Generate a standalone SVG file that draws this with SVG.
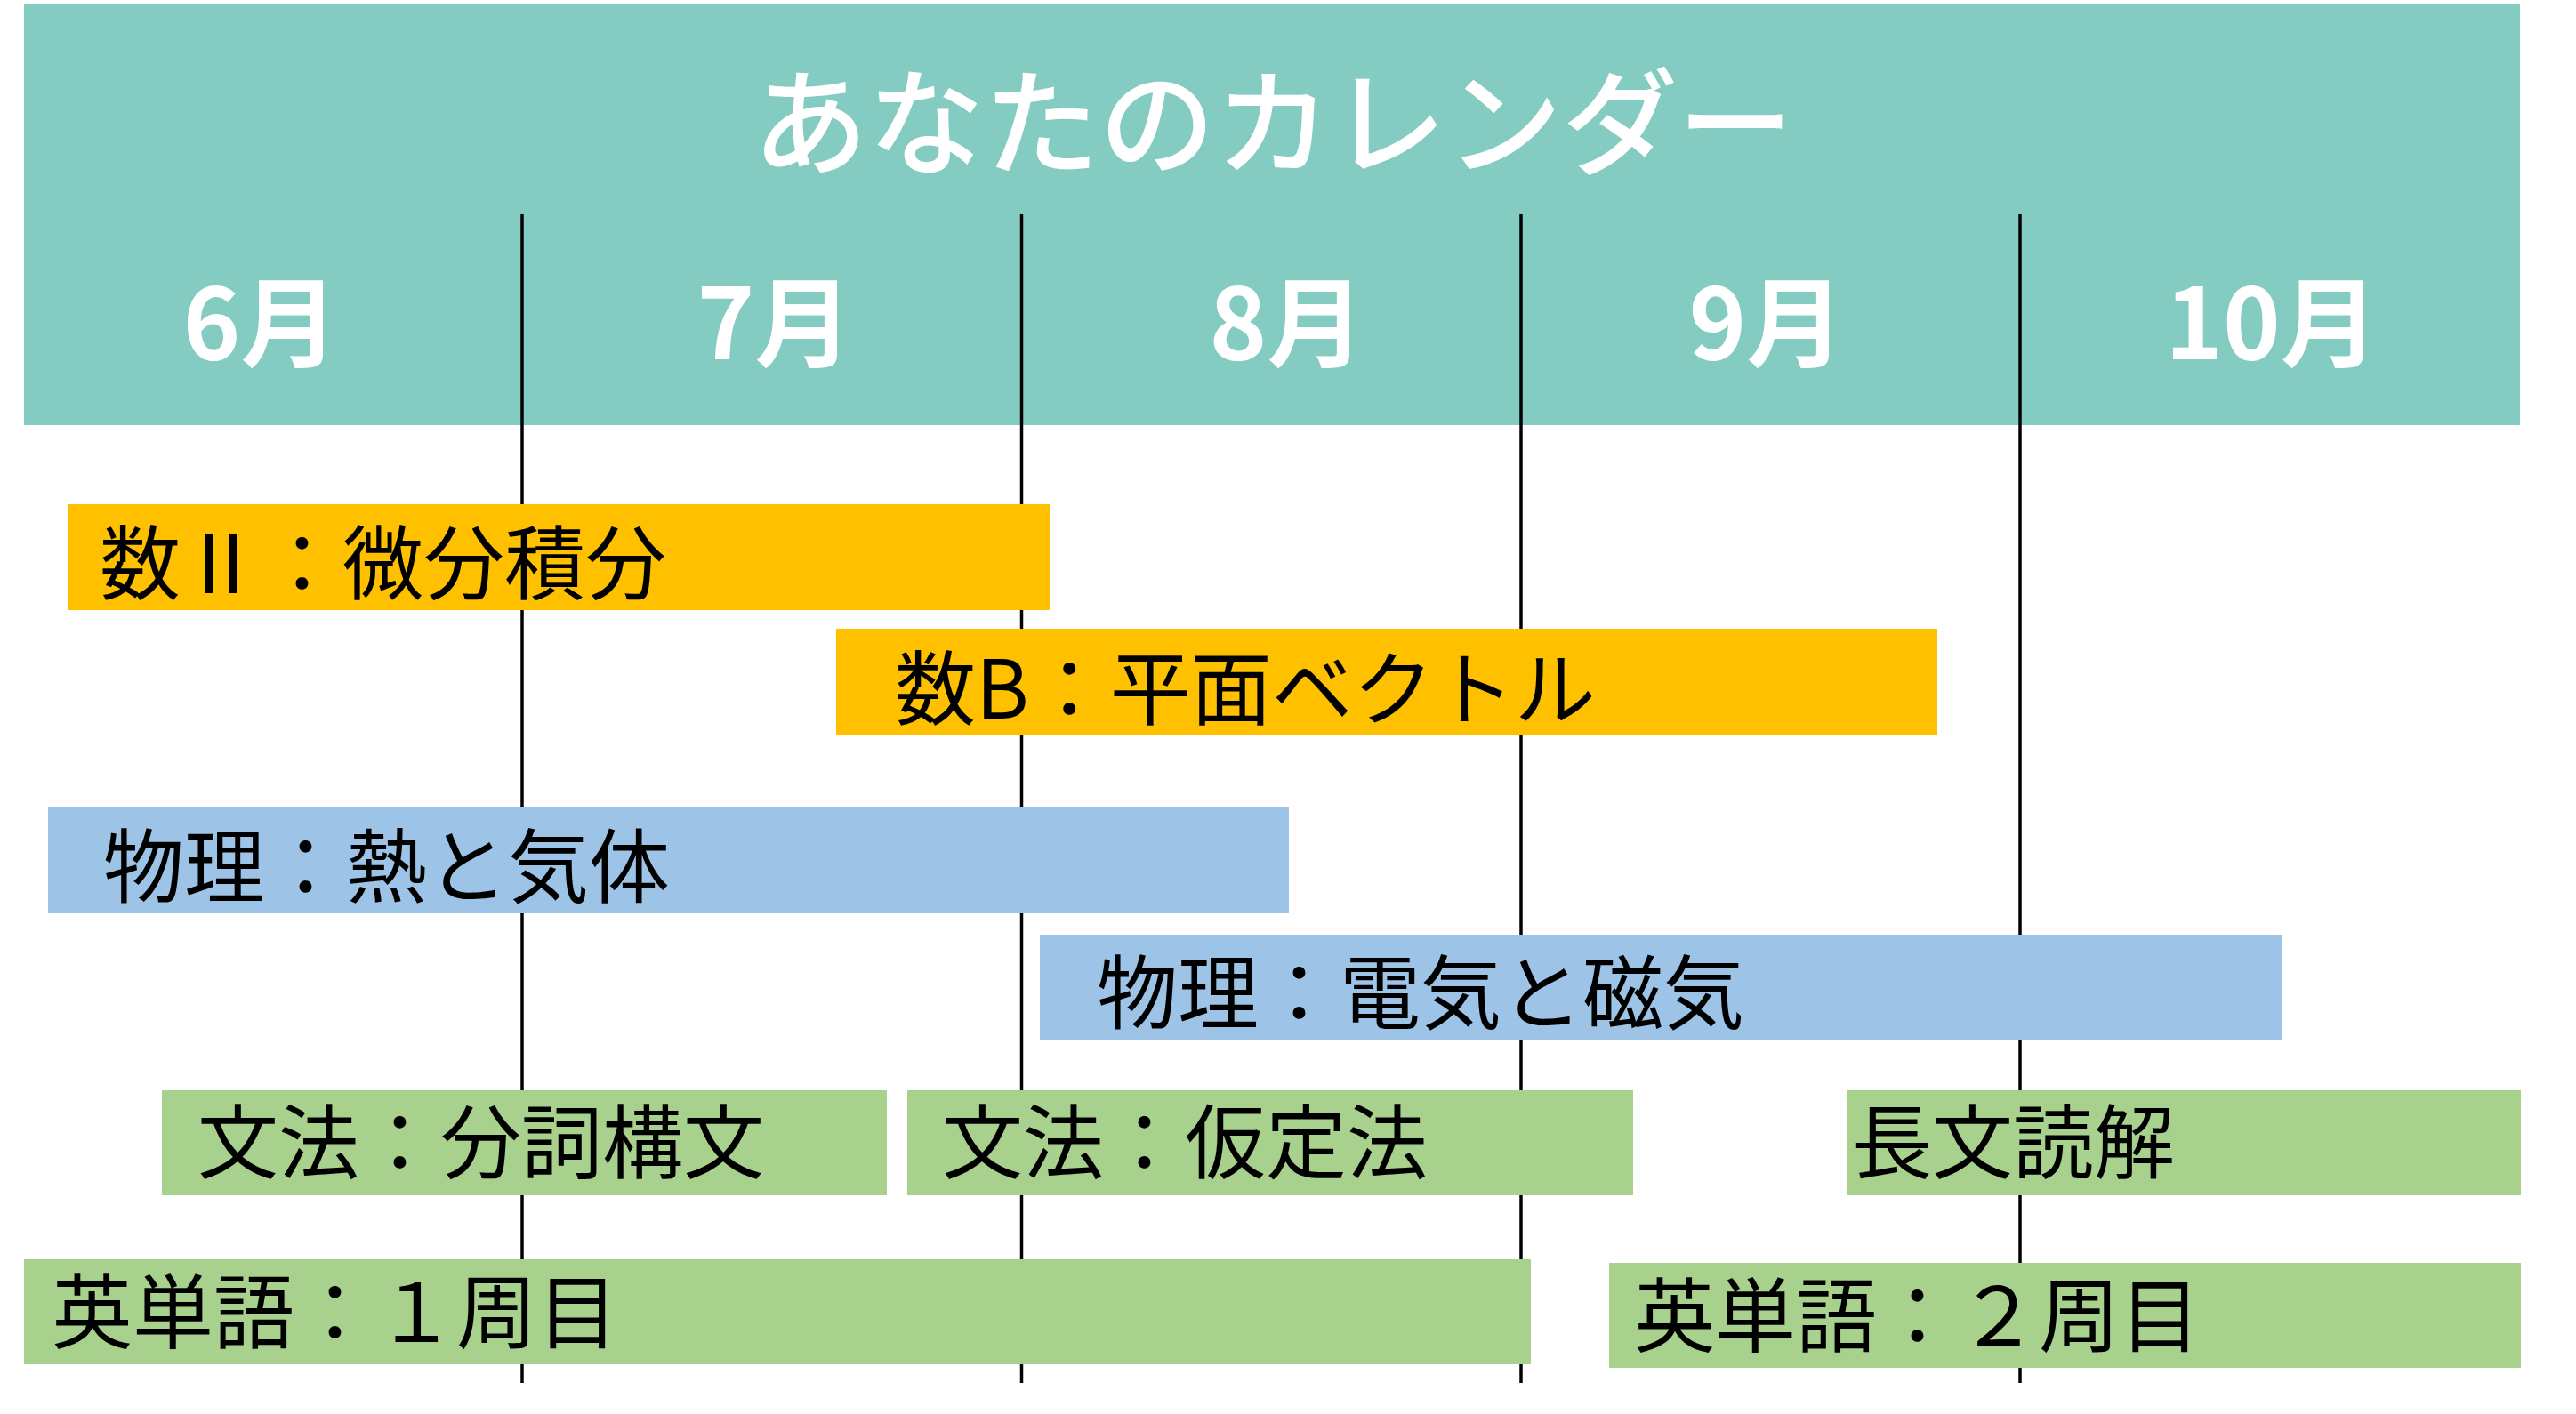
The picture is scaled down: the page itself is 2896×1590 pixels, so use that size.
<svg xmlns="http://www.w3.org/2000/svg" width="2896" height="1590" viewBox="0 0 2896 1590">
<style>
.bg{fill:#ffffff}
.hdr{fill:#84CCC1}
.title{font-family:"Noto Sans CJK JP","Noto Sans",sans-serif;font-size:130px;font-weight:500;fill:#ffffff;text-anchor:middle}
.month{font-family:"Noto Sans CJK JP","Noto Sans",sans-serif;font-size:110px;font-weight:bold;fill:#ffffff;text-anchor:middle}
.grid{stroke:#000000;stroke-width:3.5;fill:none}
.math{fill:#FFC000}
.phys{fill:#9DC3E6}
.eng{fill:#A9D18E}
.lbl{font-family:"Noto Sans CJK JP","Noto Sans",sans-serif;font-size:91px;fill:#000000}
</style>
<rect class="bg" x="0" y="0" width="2896" height="1590"/>
<g id="header">
<rect class="hdr" x="27" y="4" width="2806" height="474"/>
<text class="title" x="1431" y="186">あなたのカレンダー</text>
<text class="month" x="293" y="404">6月</text>
<text class="month" x="871" y="404">7月</text>
<text class="month" x="1447" y="404">8月</text>
<text class="month" x="1986" y="404">9月</text>
<text class="month" x="2554" y="404">10月</text>
</g>
<g id="gridlines">
<line class="grid" x1="587" y1="241" x2="587" y2="1555"/>
<line class="grid" x1="1148.5" y1="241" x2="1148.5" y2="1555"/>
<line class="grid" x1="1710" y1="241" x2="1710" y2="1555"/>
<line class="grid" x1="2271" y1="241" x2="2271" y2="1555"/>
</g>
<g id="bar-math2">
<rect class="math" x="76" y="567" width="1104" height="119"/>
<text class="lbl" x="112" y="667">数Ⅱ：微分積分</text>
</g>
<g id="bar-mathB">
<rect class="math" x="940" y="707" width="1238" height="119"/>
<text class="lbl" x="1006" y="808">数B：平面ベクトル</text>
</g>
<g id="bar-phys-heat">
<rect class="phys" x="54" y="908" width="1395" height="119"/>
<text class="lbl" x="116" y="1008">物理：熱と気体</text>
</g>
<g id="bar-phys-em">
<rect class="phys" x="1169" y="1051" width="1396" height="119"/>
<text class="lbl" x="1233" y="1150">物理：電気と磁気</text>
</g>
<g id="bar-grammar1">
<rect class="eng" x="182" y="1226" width="815" height="118"/>
<text class="lbl" x="222" y="1318">文法：分詞構文</text>
</g>
<g id="bar-grammar2">
<rect class="eng" x="1020" y="1226" width="816" height="118"/>
<text class="lbl" x="1059" y="1318">文法：仮定法</text>
</g>
<g id="bar-reading">
<rect class="eng" x="2077" y="1226" width="757" height="118"/>
<text class="lbl" x="2081" y="1318">長文読解</text>
</g>
<g id="bar-vocab1">
<rect class="eng" x="27" y="1416" width="1694" height="118"/>
<text class="lbl" x="58" y="1509">英単語：１周目</text>
</g>
<g id="bar-vocab2">
<rect class="eng" x="1809" y="1420" width="1025" height="118"/>
<text class="lbl" x="1837" y="1513">英単語：２周目</text>
</g>
</svg>
